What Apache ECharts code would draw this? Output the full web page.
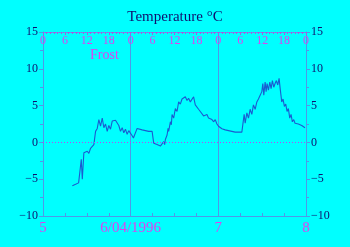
<!DOCTYPE html>
<html>
<head>
<meta charset="utf-8">
<script src="https://cdn.jsdelivr.net/npm/echarts@6/dist/echarts.min.js"></script>
<style>
html,body{margin:0;padding:0;background:#00ffff;}
#c{width:350px;height:247px;}
</style>
</head>
<body>
<div id="c"></div>
<script>
// hours since 5/04/1996 00:00
var hours = [8.03,8.93,9.75,10.29,10.48,10.76,11.19,11.66,12.12,12.56,13.02,13.49,13.92,14.39,14.85,15.29,15.75,16.22,16.66,17.12,17.58,18.02,18.48,18.95,19.39,19.85,20.31,20.75,21.22,21.68,22.12,22.58,23.04,23.48,23.95,24.41,24.76,25.77,26.21,27.14,27.58,28.04,28.51,28.94,29.41,29.87,30.31,30.77,31.24,31.67,32.14,32.60,33.04,33.31,33.50,33.97,34.24,34.40,34.87,35.14,35.33,35.77,36.23,36.70,37.13,37.60,38.06,38.50,38.96,39.43,39.86,40.33,40.79,41.23,41.69,42.16,42.59,43.06,43.52,43.96,44.89,45.32,45.79,46.25,46.69,47.15,47.62,48.05,48.52,48.98,49.88,50.79,51.71,52.61,53.52,54.44,54.88,55.07,55.35,55.81,56.25,56.71,57.17,57.61,58.08,58.54,58.98,59.45,59.91,60.18,60.45,60.81,61.08,61.35,61.71,62.09,62.44,62.80,63.18,63.54,63.89,64.27,64.63,64.98,65.36,65.72,66.08,66.46,66.81,67.17,67.55,67.91,68.26,68.64,69.00,69.90,70.83,71.73];
var temps = [-5.9,-5.7,-5.5,-5.3,-2.3,-5.0,-1.4,-1.6,-1.2,-1.5,-0.8,-0.9,-0.3,1.5,1.9,3.1,2.2,3.3,2.0,2.5,1.5,2.3,1.8,2.9,2.7,3.0,2.8,2.3,1.5,2.0,1.3,1.8,1.1,1.6,1.5,0.9,0.6,1.9,1.85,1.7,1.8,1.6,1.7,1.5,1.25,1.5,-0.1,0.1,-0.3,-0.1,-0.5,-0.3,0.1,-0.3,0.4,1.0,1.9,1.5,2.8,2.4,3.8,3.3,4.6,4.2,5.5,5.2,5.9,5.7,6.2,5.7,6.0,5.5,5.7,6.2,5.1,4.9,4.5,4.2,4.0,3.6,3.8,3.3,3.5,3.1,2.8,3.1,2.5,2.2,2.3,1.85,1.7,1.6,1.5,1.4,1.4,1.4,1.5,3.8,2.6,4.0,3.3,4.5,3.8,5.1,4.5,5.5,5.9,6.4,6.9,8.0,6.4,8.2,6.9,8.0,7.1,8.2,7.3,8.4,7.5,8.0,8.4,7.8,8.7,7.1,5.5,5.9,4.9,5.2,4.2,4.6,3.3,3.8,2.8,3.1,2.6,2.5,2.3,2.0];
var dayLabels = {0:'5',24:'6/04/1996',48:'7',72:'8'};
var yTicks = [-10,-5,0,5,10,15];
var titleText = 'Temperature °C';
var noteText = 'Frost';

var pts = hours.map(function(h,i){return [h,temps[i]];});
var MAG = '#e040f0', NAVY = '#10106e', AX = '#4d9ae8', LINE = '#1a5cd0', TOPAX = '#a060e0';
var FONT = 'Liberation Serif';
function yfmt(v){ return v < 0 ? '\u2212' + (-v) : String(v); }

var chart = echarts.init(document.getElementById('c'));
chart.setOption({
  backgroundColor: '#00ffff',
  animation: false,
  title: [
    {text: titleText, left: 'center', top: 5, textStyle:{color: NAVY, fontFamily: FONT, fontSize: 15, fontWeight: 'normal'}},
    {text: noteText, left: 85, top: 43, textStyle:{color: MAG, fontFamily: FONT, fontSize: 14, fontWeight: 'normal'}}
  ],
  grid: {left: 43, right: 44, top: 32, bottom: 31},
  xAxis: [
    {type: 'value', position: 'bottom', min: 0, max: 72, interval: 24,
     axisLine: {show: true, onZero: false, lineStyle: {color: AX}},
     axisTick: {show: true, inside: true, length: 3, lineStyle: {color: AX}},
     minorTick: {show: true, splitNumber: 4, length: 3, lineStyle: {color: AX}},
     splitLine: {show: true, lineStyle: {color: AX, width: 1}},
     axisLabel: {color: MAG, fontFamily: FONT, fontSize: 15, margin: 5,
       formatter: function(v){ return dayLabels[v] !== undefined ? dayLabels[v] : ''; }}
    },
    {type: 'value', position: 'top', min: 0, max: 72, interval: 6,
     axisLine: {show: true, onZero: false, lineStyle: {color: TOPAX, type: 'dotted'}},
     axisTick: {show: true, inside: true, length: 3, lineStyle: {color: TOPAX}},
     minorTick: {show: true, splitNumber: 6, length: 2, lineStyle: {color: TOPAX}},
     splitLine: {show: false},
     axisLabel: {inside: true, color: MAG, fontFamily: FONT, fontSize: 12, margin: 3,
       formatter: function(v){ return String(v % 24); }}
    }
  ],
  yAxis: [
    {type: 'value', position: 'left', min: -10, max: 15, interval: 5,
     axisLine: {show: true, onZero: false, lineStyle: {color: AX}},
     axisTick: {show: true, length: 4, lineStyle: {color: AX}},
     minorTick: {show: true, splitNumber: 2, length: 3, lineStyle: {color: AX}},
     splitLine: {show: false},
     axisLabel: {color: NAVY, fontFamily: FONT, fontSize: 12, margin: 5, formatter: yfmt}
    },
    {type: 'value', position: 'right', min: -10, max: 15, interval: 5,
     axisLine: {show: true, onZero: false, lineStyle: {color: AX}},
     axisTick: {show: true, length: 4, lineStyle: {color: AX}},
     minorTick: {show: true, splitNumber: 2, length: 3, lineStyle: {color: AX}},
     splitLine: {show: false},
     axisLabel: {color: NAVY, fontFamily: FONT, fontSize: 12, margin: 5, formatter: yfmt}
    }
  ],
  series: [{
    type: 'line', data: pts, xAxisIndex: 0, yAxisIndex: 0,
    showSymbol: false, lineStyle: {color: LINE, width: 1.1},
    markLine: {silent: true, symbol: 'none', label: {show: false},
      lineStyle: {color: '#c040f0', type: [1, 2], width: 1},
      data: [{yAxis: 0}]}
  }]
});
</script>
</body>
</html>
